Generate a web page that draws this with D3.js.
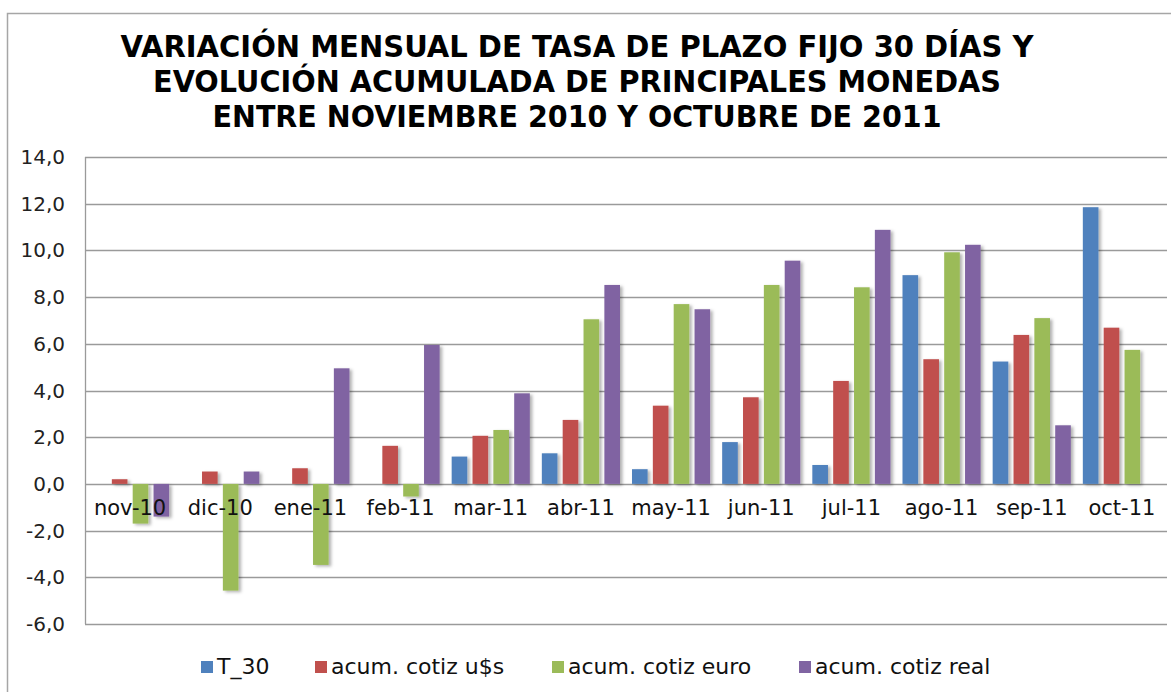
<!DOCTYPE html>
<html>
<head>
<meta charset="utf-8">
<script src="https://cdn.jsdelivr.net/npm/d3@7"></script>
<style>
  html, body { margin: 0; padding: 0; background: #ffffff; }
  svg { display: block; }
</style>
</head>
<body>
<svg id="chart" width="1171" height="692"></svg>
<script>
const categories = ["nov-10","dic-10","ene-11","feb-11","mar-11","abr-11","may-11","jun-11","jul-11","ago-11","sep-11","oct-11"];
const seriesNames = ["T_30","acum. cotiz u$s","acum. cotiz euro","acum. cotiz real"];
const t30   = [0, 0, 0, 0, 1.17, 1.31, 0.63, 1.79, 0.81, 8.94, 5.24, 11.85];
const usd   = [0.2, 0.53, 0.67, 1.63, 2.06, 2.74, 3.35, 3.71, 4.41, 5.34, 6.38, 6.69];
const euro  = [-1.7, -4.57, -3.47, -0.54, 2.31, 7.05, 7.7, 8.52, 8.42, 9.92, 7.1, 5.74];
const real  = [-1.4, 0.53, 4.95, 5.95, 3.88, 8.52, 7.48, 9.56, 10.88, 10.24, 2.51, 0];
const yTicks = [-6, -4, -2, 0, 2, 4, 6, 8, 10, 12, 14];
const titleLines = [
  "VARIACIÓN MENSUAL DE TASA DE PLAZO FIJO 30 DÍAS Y",
  "EVOLUCIÓN ACUMULADA DE PRINCIPALES MONEDAS",
  "ENTRE NOVIEMBRE 2010 Y OCTUBRE DE 2011"
];
const colors = ["#4F81BD", "#C0504D", "#9BBB59", "#8064A2"];
const seriesValues = [t30, usd, euro, real];

const svg = d3.select("#chart");
const defs = svg.append("defs");
const f = defs.append("filter").attr("id", "shadow").attr("x", "-30%").attr("y", "-10%").attr("width", "170%").attr("height", "130%");
f.append("feDropShadow").attr("dx", 2.5).attr("dy", 1.5).attr("stdDeviation", 1.4)
  .attr("flood-color", "#000").attr("flood-opacity", 0.3);

// outer chart border (extends beyond the visible frame right/bottom)
svg.append("rect").attr("x", 7.5).attr("y", 13.5).attr("width", 1200).attr("height", 720)
  .attr("fill", "#fff").attr("stroke", "#a6a6a6").attr("stroke-width", 1.5);

// title
const titleY = [57, 92, 127];
const titleW = [913, 848, 729];
svg.append("g").selectAll("text").data(titleLines).join("text")
  .attr("x", 577).attr("y", (d, i) => titleY[i])
  .attr("text-anchor", "middle")
  .attr("textLength", (d, i) => titleW[i])
  .attr("lengthAdjust", "spacingAndGlyphs")
  .attr("font-family", "DejaVu Sans, Verdana, sans-serif")
  .attr("font-weight", "bold")
  .attr("font-size", 31)
  .attr("fill", "#000")
  .text(d => d);

const plotL = 85, plotR = 1167;
const y = d3.scaleLinear().domain([-6, 14]).range([624, 157]);
const x0 = d3.scaleBand().domain(categories).range([plotL, plotR]).paddingInner(0).paddingOuter(0);
const x1 = d3.scaleBand().domain(seriesNames).range([6, x0.bandwidth() - 6]).paddingInner(0.25).paddingOuter(0);

// gridlines
svg.append("g").selectAll("line").data(yTicks).join("line")
  .attr("x1", plotL).attr("x2", plotR)
  .attr("y1", d => Math.round(y(d)) + 0.5).attr("y2", d => Math.round(y(d)) + 0.5)
  .attr("stroke", "#9a9a9a").attr("stroke-width", 1.3);

// y axis line
svg.append("line").attr("x1", plotL + 0.5).attr("x2", plotL + 0.5)
  .attr("y1", y(14)).attr("y2", y(-6)).attr("stroke", "#9a9a9a").attr("stroke-width", 1.3);

// y axis labels
const fmt = v => d3.format(".1f")(v).replace(".", ",").replace("−", "-");
svg.append("g").selectAll("text").data(yTicks).join("text")
  .attr("x", 65).attr("y", d => y(d) + 7)
  .attr("text-anchor", "end")
  .attr("font-family", "DejaVu Sans, Verdana, sans-serif")
  .attr("font-size", 20)
  .attr("fill", "#222")
  .text(d => fmt(d));

// bars
const barData = [];
categories.forEach((c, ci) => {
  seriesNames.forEach((s, si) => {
    const v = seriesValues[si][ci];
    if (v !== null && v !== 0) barData.push({ c, s, si, v });
  });
});
svg.append("g").attr("filter", "url(#shadow)").selectAll("rect").data(barData).join("rect")
  .attr("x", d => x0(d.c) + x1(d.s))
  .attr("width", x1.bandwidth())
  .attr("y", d => y(Math.max(0, d.v)))
  .attr("height", d => Math.abs(y(d.v) - y(0)))
  .attr("fill", d => colors[d.si]);

// category labels (drawn over bars)
svg.append("g").selectAll("text").data(categories).join("text")
  .attr("x", d => x0(d) + x0.bandwidth() / 2)
  .attr("y", 515)
  .attr("text-anchor", "middle")
  .attr("font-family", "DejaVu Sans, Verdana, sans-serif")
  .attr("font-size", 21)
  .attr("fill", "#111")
  .text(d => d);

// legend
const legendX = [201, 315, 552, 799];
const lg = svg.append("g").selectAll("g").data(seriesNames).join("g")
  .attr("transform", (d, i) => `translate(${legendX[i]},661)`);
lg.append("rect").attr("width", 12).attr("height", 12).attr("fill", (d, i) => colors[i]);
lg.append("text").attr("x", 16).attr("y", 13)
  .attr("font-family", "DejaVu Sans, Verdana, sans-serif")
  .attr("font-size", 22)
  .attr("fill", "#111")
  .text(d => d);
</script>
</body>
</html>
